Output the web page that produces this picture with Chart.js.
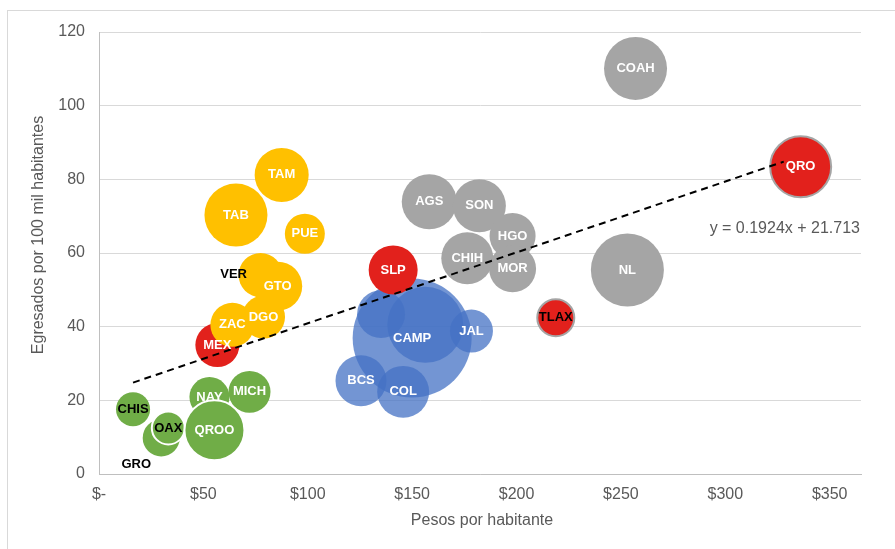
<!DOCTYPE html>
<html>
<head>
<meta charset="utf-8">
<script src="https://cdn.jsdelivr.net/npm/chart.js@4.4.1/dist/chart.umd.min.js"></script>
<style>
  html, body { margin: 0; padding: 0; background: #fff; }
  canvas { display: block; }
</style>
</head>
<body>
<canvas id="bubbleChart" width="895" height="549"></canvas>
<script>
// datos por estado (pesos por habitante, egresados por 100 mil hab., tamaño de burbuja)
const estados   = ['CHIS', 'GRO', 'OAX', 'NAY', 'MICH', 'QROO',
                   'CAMP', '', '', 'JAL', 'BCS', 'COL',
                   'MEX', 'SLP', 'TLAX', 'QRO',
                   'TAM', 'TAB', 'PUE', 'VER', 'GTO', 'DGO', 'ZAC',
                   'COAH', 'NL', 'AGS', 'SON', 'HGO', 'CHIH', 'MOR'];
const pesos     = [16.3, 29.8, 33.2, 52.9, 72.1, 55.3,
                   150.0, 156.3, 135.1, 178.4, 125.5, 145.7,
                   56.7, 140.9, 218.8, 336.1,
                   87.5, 65.6, 98.6, 77.4, 85.6, 78.8, 63.9,
                   257.0, 253.1, 158.2, 182.2, 198.1, 176.4, 198.1];
const egresados = [17.6, 9.8, 12.5, 20.9, 22.3, 11.9,
                   36.9, 40.5, 43.4, 38.8, 25.3, 22.3,
                   35.0, 55.4, 42.4, 83.4,
                   81.2, 70.3, 65.2, 54.0, 51.0, 42.6, 40.5,
                   110.1, 55.4, 73.9, 72.8, 64.6, 58.6, 55.7];
const tamano    = [11.6, 13.7, 10.9, 16.0, 17.6, 36.0,
                   141.6, 57.8, 23.0, 18.5, 26.0, 27.0,
                   19.4, 24.0, 13.7, 37.2,
                   29.2, 39.7, 16.0, 19.4, 24.0, 18.5, 19.4,
                   39.7, 53.3, 30.3, 28.1, 21.2, 27.0, 22.1];
const grupo     = ['verde', 'verde', 'verde', 'verde', 'verde', 'verde',
                   'azul', 'azul', 'azul', 'azul', 'azul', 'azul',
                   'rojo', 'rojo', 'rojo', 'rojo',
                   'amarillo', 'amarillo', 'amarillo', 'amarillo', 'amarillo', 'amarillo', 'amarillo',
                   'gris', 'gris', 'gris', 'gris', 'gris', 'gris', 'gris'];

const xTickLabels = ['$-', '$50', '$100', '$150', '$200', '$250', '$300', '$350'];

// línea de tendencia (extremos)
const tendenciaX = [16.3, 328.0];
const tendenciaY = [24.8, 84.8];
const ecuacion = 'y = 0.1924x + 21.713';

// estilos
const colores = {
  verde: '#70ad47',
  azul: 'rgba(68, 114, 196, 0.75)',
  rojo: '#e2211c',
  amarillo: '#ffc000',
  gris: '#a5a5a5'
};
const ordenDibujo = { gris: 1, amarillo: 2, rojo: 3, azul: 4, verde: 5 };
const bordes = { QROO: ['#ffffff', 2], OAX: ['#ffffff', 2], QRO: ['#a5a5a5', 2], TLAX: ['#a5a5a5', 2] };
const etiquetaNegra = ['CHIS', 'OAX', 'GRO', 'VER', 'TLAX'];
const desplazamiento = { VER: [-27, -1], GRO: [-25, 27] };
const ESCALA_R = 5;
const FUENTE = '"Liberation Sans", Arial, sans-serif';
const GRIS_TEXTO = '#595959';

Chart.defaults.font.family = FUENTE;

const datasets = Object.keys(colores).map(g => {
  const puntos = [];
  estados.forEach((e, i) => {
    if (grupo[i] !== g) return;
    puntos.push({ x: pesos[i], y: egresados[i], r: ESCALA_R * Math.sqrt(tamano[i]), nombre: e });
  });
  return {
    type: 'bubble',
    label: g,
    data: puntos,
    backgroundColor: colores[g],
    borderColor: ctx => (bordes[ctx.raw && ctx.raw.nombre] || ['rgba(0,0,0,0)'])[0],
    borderWidth: ctx => (bordes[ctx.raw && ctx.raw.nombre] || [null, 0])[1],
    order: ordenDibujo[g]
  };
});

datasets.push({
  type: 'line',
  label: 'tendencia',
  data: tendenciaX.map((x, i) => ({ x: x, y: tendenciaY[i] })),
  borderColor: '#000000',
  borderWidth: 2,
  borderDash: [7, 5],
  pointRadius: 0,
  fill: false,
  order: 0
});

const fondo = {
  id: 'fondo',
  beforeDraw(chart) {
    const ctx = chart.ctx;
    ctx.save();
    ctx.fillStyle = '#ffffff';
    ctx.fillRect(0, 0, chart.width, chart.height);
    ctx.strokeStyle = '#d9d9d9';
    ctx.lineWidth = 1;
    ctx.strokeRect(7.5, 10.5, chart.width + 20, chart.height + 20);
    ctx.restore();
  }
};

const etiquetas = {
  id: 'etiquetas',
  afterDatasetsDraw(chart) {
    const ctx = chart.ctx;
    ctx.save();
    ctx.font = 'bold 13px ' + FUENTE;
    ctx.textAlign = 'center';
    ctx.textBaseline = 'middle';
    chart.data.datasets.forEach((ds, i) => {
      if (ds.type !== 'bubble') return;
      chart.getDatasetMeta(i).data.forEach((el, j) => {
        const nombre = ds.data[j].nombre;
        if (!nombre) return;
        const off = desplazamiento[nombre] || [0, 0];
        ctx.fillStyle = etiquetaNegra.includes(nombre) ? '#000000' : '#ffffff';
        ctx.fillText(nombre, el.x + off[0], el.y + off[1]);
      });
    });
    // ecuación de la tendencia
    ctx.font = '16px ' + FUENTE;
    ctx.fillStyle = GRIS_TEXTO;
    ctx.fillText(ecuacion, chart.scales.x.getPixelForValue(328.5), chart.scales.y.getPixelForValue(66.5));
    ctx.restore();
  }
};

const titulos = {
  id: 'titulos',
  afterDraw(chart) {
    const ctx = chart.ctx;
    ctx.save();
    ctx.font = '16px ' + FUENTE;
    ctx.fillStyle = GRIS_TEXTO;
    ctx.textAlign = 'center';
    ctx.textBaseline = 'middle';
    ctx.fillText('Pesos por habitante', 482, 521);
    ctx.translate(39, 235);
    ctx.rotate(-Math.PI / 2);
    ctx.fillText('Egresados por 100 mil habitantes', 0, 0);
    ctx.restore();
  }
};

new Chart(document.getElementById('bubbleChart'), {
  type: 'bubble',
  data: { datasets: datasets },
  options: {
    responsive: false,
    animation: false,
    events: [],
    layout: { autoPadding: false, padding: { top: 32, right: 34, left: 0, bottom: 0 } },
    plugins: {
      legend: { display: false },
      tooltip: { enabled: false }
    },
    scales: {
      x: {
        type: 'linear',
        min: 0,
        max: 365,
        grid: { display: false, drawTicks: false },
        border: { display: true, color: '#bfbfbf', width: 1 },
        ticks: {
          stepSize: 50,
          includeBounds: false,
          padding: 11,
          color: GRIS_TEXTO,
          font: { size: 16 },
          maxRotation: 0,
          callback: (v, i) => xTickLabels[i]
        },
        afterFit: s => { s.height = 75; }
      },
      y: {
        min: 0,
        max: 120,
        grid: { color: '#d9d9d9', drawTicks: false },
        border: { display: true, color: '#bfbfbf', width: 1 },
        ticks: {
          stepSize: 20,
          padding: 14,
          color: GRIS_TEXTO,
          font: { size: 16 }
        },
        afterFit: s => { s.width = 99; }
      }
    }
  },
  plugins: [fondo, etiquetas, titulos]
});
</script>
</body>
</html>
